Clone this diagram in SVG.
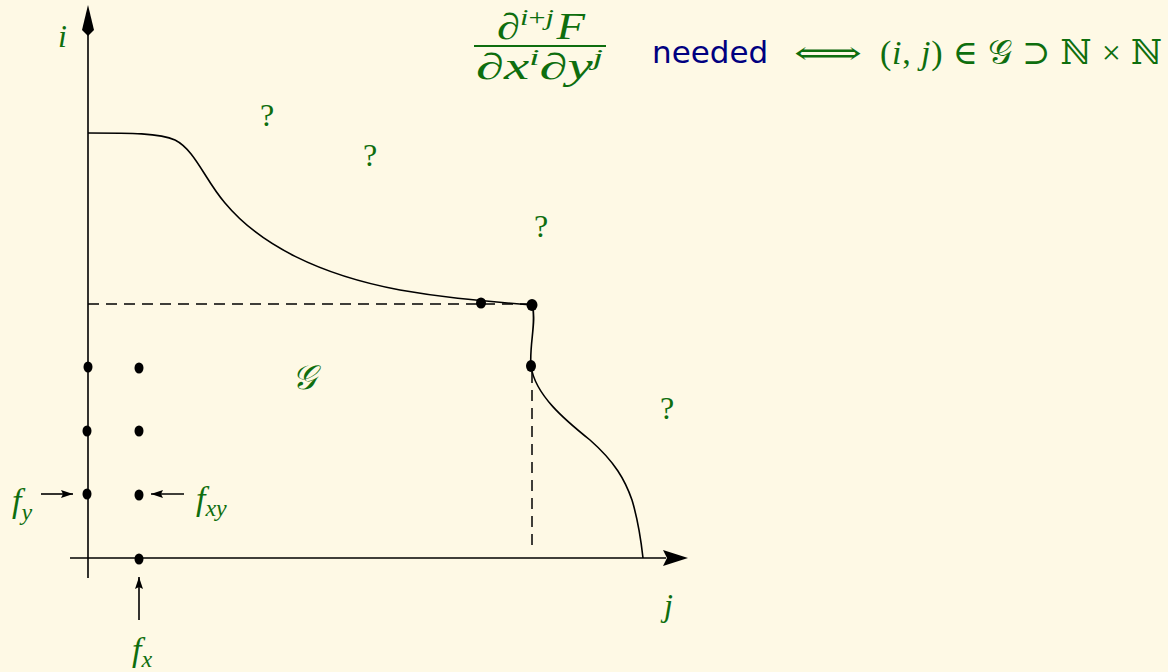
<svg xmlns="http://www.w3.org/2000/svg" width="1168" height="672" viewBox="0 0 1168 672">
<style>
.m{font-family:"Liberation Serif","DejaVu Serif",serif;font-style:italic;fill:#0e6e0e}
.r{font-family:"Liberation Serif","DejaVu Serif",serif;fill:#0e6e0e}
.ln{stroke:#000;stroke-width:1.6;fill:none}
.dash{stroke:#000;stroke-width:1.5;fill:none;stroke-dasharray:11 7}
.dot{fill:#000}
</style>
<defs>
<marker id="ah" viewBox="0 0 12 10" refX="12" refY="5" markerWidth="12" markerHeight="10" markerUnits="userSpaceOnUse" orient="auto">
<path d="M0,1 L12,5 L0,9 L2,5 Z" fill="#000"/>
</marker>
</defs>
<rect width="1168" height="672" fill="#fef9e5"/>
<g id="axes">
<line class="ln" x1="88" y1="578" x2="88" y2="32"/>
<path d="M88,5 L94,30 L88,36 L82,30 Z" fill="#000"/>
<line class="ln" x1="70" y1="558" x2="666" y2="558"/>
<path d="M688,558 L663,550 L667,558 L663,566 Z" fill="#000"/>
<text class="m" x="58" y="47" font-size="32">i</text>
<text class="m" x="664" y="616" font-size="32">j</text>
</g>
<g id="boundary">
<path class="ln" d="M88,133 C130,133 160,133 175,140 C195,150 205,180 225,203 C260,245 320,275 400,290 C440,297 470,300 532,305 C537,320 529,345 531,366 C535,395 565,420 590,440 C615,462 625,480 632,500 C638,520 641,540 643,558"/>
</g>
<g id="connectors">
<line class="dash" x1="88" y1="304" x2="532" y2="304"/>
<line class="dash" x1="532" y1="372" x2="532" y2="548"/>
<line class="ln" x1="41" y1="494" x2="73" y2="494" marker-end="url(#ah)"/>
<line class="ln" x1="184" y1="494" x2="151" y2="494" marker-end="url(#ah)"/>
<line class="ln" x1="139" y1="620" x2="139" y2="577" marker-end="url(#ah)"/>
</g>
<g id="dots">
<ellipse class="dot" cx="481" cy="303" rx="5" ry="5.5"/>
<ellipse class="dot" cx="532" cy="305" rx="5.5" ry="6"/>
<ellipse class="dot" cx="531" cy="366" rx="5" ry="6"/>
<ellipse class="dot" cx="88" cy="367" rx="4.5" ry="5.5"/>
<ellipse class="dot" cx="139" cy="368" rx="4.5" ry="5.5"/>
<ellipse class="dot" cx="87" cy="431" rx="4.5" ry="5.5"/>
<ellipse class="dot" cx="139" cy="431" rx="4.5" ry="5.5"/>
<ellipse class="dot" cx="87" cy="494" rx="4.5" ry="5.5"/>
<ellipse class="dot" cx="139" cy="495" rx="4.5" ry="5.5"/>
<ellipse class="dot" cx="139" cy="559" rx="4.5" ry="5.5"/>
</g>
<g id="labels">
<text class="m" x="12" y="512" font-size="34">f<tspan font-size="24" dy="8">y</tspan></text>
<text class="m" x="196" y="510" font-size="34">f<tspan font-size="24" dy="6">xy</tspan></text>
<text class="m" x="132" y="661" font-size="34">f<tspan font-size="24" dy="6">x</tspan></text>
<text class="m" x="292" y="389" font-size="34">𝒢</text>
<text class="r" x="260" y="126" font-size="32">?</text>
<text class="r" x="363" y="166" font-size="32">?</text>
<text class="r" x="534" y="237" font-size="32">?</text>
<text class="r" x="660" y="419" font-size="32">?</text>
</g>
<g id="formula">
<text class="r" x="497" y="39" font-size="37" textLength="88" lengthAdjust="spacingAndGlyphs">∂<tspan class="m" font-size="24" dy="-14">i</tspan><tspan font-size="24">+</tspan><tspan class="m" font-size="24">j</tspan><tspan class="m" dy="14" dx="2">F</tspan></text>
<line x1="474" y1="46" x2="606" y2="46" stroke="#0e6e0e" stroke-width="2"/>
<text class="r" x="476" y="79" font-size="37" textLength="127" lengthAdjust="spacingAndGlyphs">∂<tspan class="m">x</tspan><tspan class="m" font-size="24" dy="-14">i</tspan><tspan dy="14">∂</tspan><tspan class="m">y</tspan><tspan class="m" font-size="24" dy="-14">j</tspan></text>
<text x="652" y="63" font-family="DejaVu Sans,sans-serif" font-size="31" fill="#000080">needed</text>
<text class="r" x="794" y="64" font-size="32" textLength="68" lengthAdjust="spacingAndGlyphs">⟺</text>
<text class="r" x="880" y="64" font-size="34" textLength="282" lengthAdjust="spacing">(<tspan class="m">i</tspan>, <tspan class="m">j</tspan>) ∈ 𝒢 ⊃ ℕ × ℕ</text>
</g>
</svg>
